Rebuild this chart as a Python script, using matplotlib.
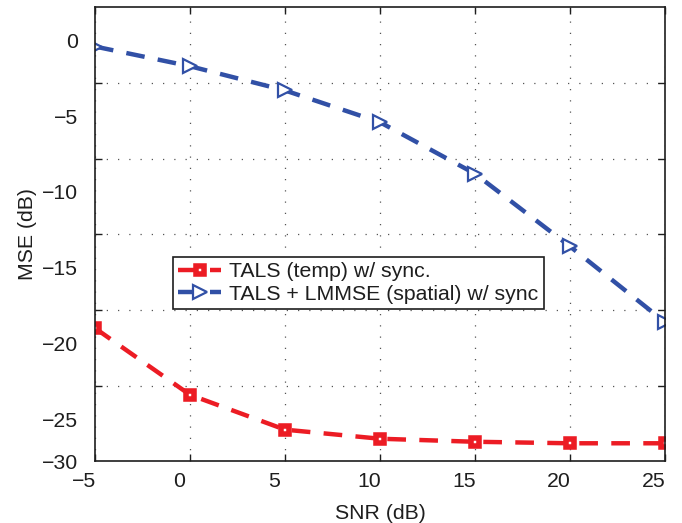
import numpy as np
import matplotlib
matplotlib.use("Agg")
import matplotlib.pyplot as plt
from matplotlib.transforms import ScaledTranslation

plt.rcParams['font.family'] = ['Liberation Sans', 'DejaVu Sans']

# data
snr_db = [-5, 0, 5, 10, 15, 20, 25]
mse_tals_temp = [-19.0, -23.4, -25.7, -26.3, -26.5, -26.6, -26.6]
mse_tals_lmmse = [-0.4, -1.7, -3.3, -5.4, -8.8, -13.6, -18.6]

label_temp = "TALS (temp) w/ sync."
label_spatial = "TALS + LMMSE (spatial) w/ sync"

x_ticks = [-5, 0, 5, 10, 15, 20, 25]
x_tick_labels = ["\u22125", "0", "5", "10", "15", "20", "25"]
y_ticks = [-27.77, -25, -20, -15, -10, -5, 0]
y_tick_labels = ["\u221230", "\u221225", "\u221220", "\u221215", "\u221210", "\u22125", "0"]

red = "#ec1c24"
blue = "#3150a6"
ink = "#1e1e1e"
fs = 15.3

fig = plt.figure(figsize=(6.82, 5.23), dpi=100)
ax = fig.add_axes([95 / 682, 1 - 461 / 523, 570 / 682, 454 / 523])

ax.plot(snr_db, mse_tals_temp, color=red, lw=3.2, dashes=(4.2, 3.0),
        marker='s', ms=6, mfc='white', mec=red, mew=4, label=label_temp)
ax.plot(snr_db, mse_tals_lmmse, color=blue, lw=3.2, dashes=(4.2, 3.0),
        marker='>', ms=10.5, mfc='white', mec=blue, mew=1.6, label=label_spatial)

ax.set_xlim(-5, 25)
ax.set_ylim(-27.77, 2.21)

ax.set_xticks(x_ticks, x_tick_labels)
ax.xaxis.grid(True, linestyle=(0, (1, 8)), color='#555555', lw=0.9)

# y labels and y grid are offset from each other in the original
ax.set_yticks(y_ticks, y_tick_labels)
grid_y = np.arange(0, -30, -5) - 2.81
ax.set_yticks(grid_y[grid_y > -27.7], minor=True)
ax.yaxis.grid(True, which='minor', linestyle=(0, (1, 8)), color='#555555', lw=0.9)
ax.tick_params(axis='y', which='major', length=0, pad=12)
ax.tick_params(axis='y', which='minor', direction='in', length=5, width=1,
               left=True, right=True, color=ink)
ax.tick_params(axis='x', direction='in', length=5, width=1, top=True, pad=8,
               color=ink)
ax.tick_params(labelsize=fs, labelcolor=ink)

# x labels drawn a bit left of their ticks, as in the original
shift = ScaledTranslation(-11 / 100, 0, fig.dpi_scale_trans)
for t in ax.xaxis.get_major_ticks():
    t.label1.set_transform(t.label1.get_transform() + shift)

for s in ax.spines.values():
    s.set_linewidth(1.2)
    s.set_color(ink)

ax.set_xlabel("SNR (dB)", fontsize=fs, color=ink, labelpad=9)
ax.set_ylabel("MSE (dB)", fontsize=fs, color=ink, labelpad=4)

leg = ax.legend(loc='upper left', bbox_to_anchor=(0.137, 0.449), borderaxespad=0,
                fontsize=fs, fancybox=False, framealpha=1, edgecolor=ink,
                handlelength=2.0, handletextpad=0.4, borderpad=0.25,
                labelspacing=0.15)
leg.get_frame().set_linewidth(1.2)
for t in leg.get_texts():
    t.set_color(ink)

fig.savefig("out.png", dpi=100)
